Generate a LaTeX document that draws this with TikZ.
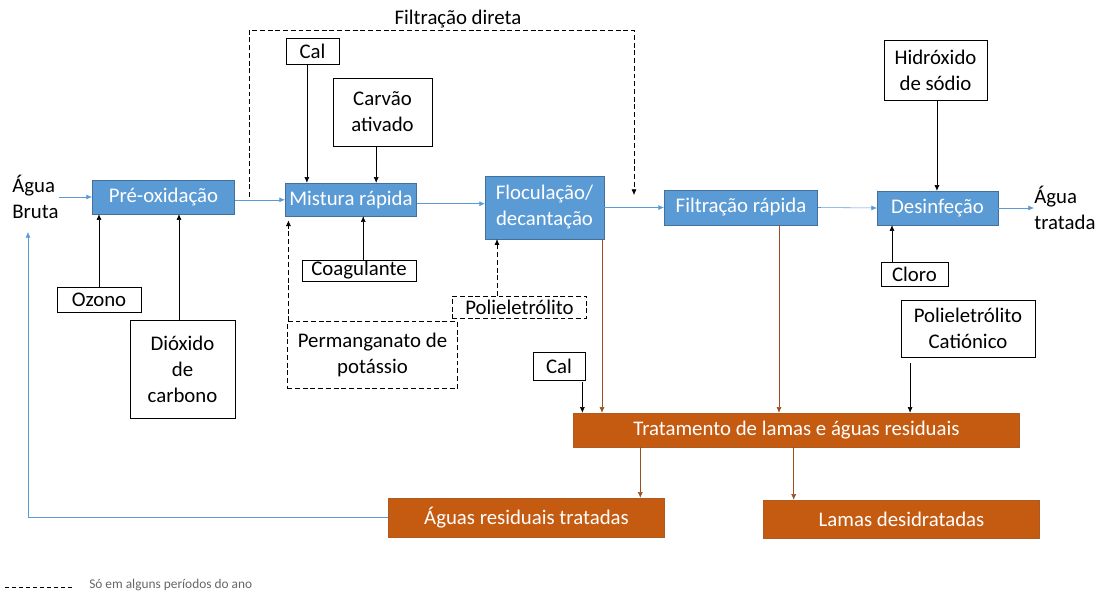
\documentclass[tikz,border=0pt]{standalone}
\usepackage{fontspec}
\setmainfont{Carlito}
\usetikzlibrary{arrows.meta}
\definecolor{procblue}{HTML}{5B9BD5}
\definecolor{procedge}{HTML}{41719C}
\definecolor{sludge}{HTML}{C55A11}
\definecolor{sludgeedge}{HTML}{AE5A21}
\definecolor{sludgeline}{HTML}{9E4E1E}
\tikzset{
  sz/.style 2 args={minimum width=#1*0.7087pt, minimum height=#2*0.7087pt},
  proc/.style={draw=procedge, fill=procblue, text=white, inner sep=0pt, align=center},
  chem/.style={draw=black, fill=white, inner sep=0pt, align=center},
  chemopt/.style={chem, dash pattern=on 3.5pt off 2pt},
  lama/.style={draw=sludgeedge, fill=sludge, text=white, inner sep=0pt, align=center},
  flow/.style={draw=procblue, -{Latex[length=4pt,width=3.5pt]}},
  feed/.style={draw=black, -{Latex[length=4pt,width=3.5pt]}},
  feedopt/.style={feed, dash pattern=on 3.5pt off 2pt},
  slflow/.style={draw=sludgeline, -{Latex[length=4pt,width=3.5pt]}}
}
\begin{document}
\begin{tikzpicture}[x=0.025cm, y=-0.025cm, font=\fontsize{14.8}{18.5}\selectfont]
	\useasboundingbox (0,0) rectangle (1099,594);
	\node[anchor=west, align=left, inner sep=0pt] (bruta) at (12,197) {Água\\Bruta};
	\node[proc, sz={143}{34}] (pre) at (163.5,197) {Pré-oxidação};
	\node[proc, sz={132}{33}] (mix) at (351,199.5) {Mistura rápida};
	\node[proc, sz={119}{63}] (floc) at (544.5,207.5) {Floculação/\\decantação};
	\node[proc, sz={154}{35}] (filt) at (741,207.5) {Filtração rápida};
	\node[proc, sz={121}{34}] (des) at (937.5,208) {Desinfeção};
	\node[anchor=west, align=left, inner sep=0pt] (tratada) at (1034,208) {Água\\tratada};

	\node[chem, sz={53}{26}] (cal1) at (312.5,51) {Cal};
	\node[chem, sz={99}{68}] (carvao) at (382.5,112) {Carvão\\ativado};
	\node[chem, sz={114}{21}] (coag) at (359,270.5) {Coagulante};
	\node[chemopt, sz={171}{67}] (perm) at (372.5,355) {Permanganato de\\potássio};
	\node[chemopt, sz={135}{22}] (poli) at (519.5,307) {Polieletrólito};
	\node[chem, sz={84}{25}] (ozono) at (99,299.5) {Ozono};
	\node[chem, sz={105}{98}] (co2) at (182.5,369) {Dióxido\\de\\carbono};
	\node[chem, sz={103}{60}] (naoh) at (935.5,70) {Hidróxido\\de sódio};
	\node[chem, sz={67}{24}] (cloro) at (914.5,274) {Cloro};
	\node[chem, sz={134}{57}] (pcat) at (968,328.5) {Polieletrólito\\Catiónico};
	\node[chem, sz={52}{28}] (cal2) at (559,366) {Cal};

	\node[lama, sz={447}{34}] (trat) at (796.5,430) {Tratamento de lamas e águas residuais};
	\node[lama, sz={277}{39}] (aguasres) at (526.5,517.5) {Águas residuais tratadas};
	\node[lama, sz={277}{38}] (lamas) at (901.5,519) {Lamas desidratadas};

	\draw[flow] (bruta.east |- pre.west) -- (pre.west);
	\draw[flow] ([yshift=-2pt]pre.east) -- ([yshift=-2pt]pre.east -| mix.west);
	\draw[flow] ([yshift=-3pt]mix.east) -- ([yshift=-3pt]mix.east -| floc.west);
	\draw[flow] (floc.east) -- (filt.west);
	\draw[flow] (filt.east) -- (des.west);
	\draw[flow] (des.east) -- (des.east -| tratada.west);
	\coordinate (ret) at (28,232);
	\draw[flow] (aguasres.west) -| (ret);

	\coordinate (fd1) at (249,197);
	\coordinate (fd2) at (634,195);
	\draw[feedopt] (fd1) -- (fd1 |- 0,30) -- (fd2 |- 0,30) -- (fd2);
	\node[inner sep=0pt] (fdlabel) at (458,19) {Filtração direta};

	\draw[feed] ([xshift=-4pt]cal1.south) -- ([xshift=-4pt]cal1.south |- mix.north);
	\draw[feed] ([xshift=-4.5pt]carvao.south) -- ([xshift=-4.5pt]carvao.south |- mix.north);
	\draw[feed] ([xshift=3pt]coag.north) -- ([xshift=3pt]coag.north |- mix.south);
	\draw[feedopt] ([xshift=1pt]perm.north west) -- ([xshift=1pt,yshift=-3pt]perm.north west |- mix.south);
	\draw[feedopt] ([xshift=-16pt]poli.north) -- ([xshift=-16pt]poli.north |- floc.south);
	\draw[feed] (ozono.north) -- (ozono.north |- pre.south);
	\draw[feed] ([xshift=-2.5pt]co2.north) -- ([xshift=-2.5pt]co2.north |- pre.south);
	\draw[feed] ([xshift=1pt]naoh.south) -- ([xshift=1pt]naoh.south |- des.north);
	\draw[feed] ([xshift=-16pt]cloro.north) -- ([xshift=-16pt]cloro.north |- des.south);
	\draw[feed] ([xshift=6.5pt,yshift=-4pt]pcat.south west) -- ([xshift=6.5pt]pcat.south west |- trat.north);
	\draw[feed] ([xshift=-2pt,yshift=-1pt]cal2.south east) -- ([xshift=-2pt]cal2.south east |- trat.north);

	\draw[slflow] ([xshift=-1.5pt]floc.south east) -- ([xshift=-1.5pt]floc.south east |- trat.north);
	\draw[slflow] ([xshift=27pt]filt.south) -- ([xshift=27pt]filt.south |- trat.north);
	\draw[slflow] ([xshift=47.5pt]trat.south west) -- ([xshift=47.5pt]trat.south west |- aguasres.north);
	\draw[slflow] ([xshift=-2pt]trat.south) -- ([xshift=-2pt]trat.south |- lamas.north);

	\coordinate (leg) at (5,587);
	\draw[dash pattern=on 3pt off 2pt] (leg) -- ++(70,0);
	\node[anchor=west, inner sep=0pt, text=black!60, font=\fontsize{9.5}{11}\selectfont] (legtext) at (89,585) {Só em alguns períodos do ano};
\end{tikzpicture}
\end{document}
